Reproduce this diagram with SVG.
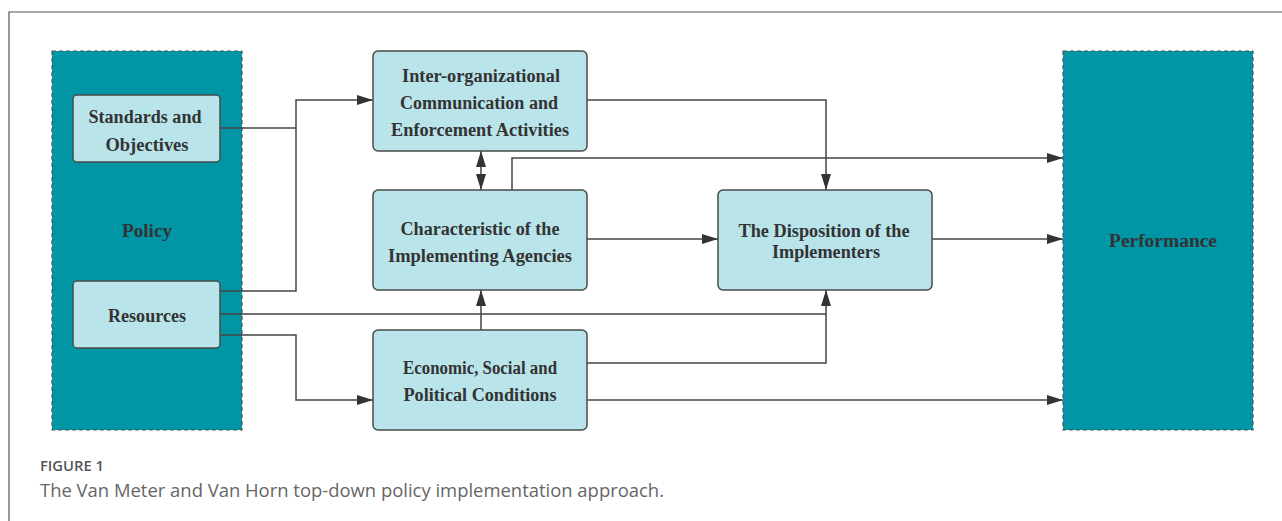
<svg xmlns="http://www.w3.org/2000/svg" width="1282" height="521" viewBox="0 0 1282 521">
<style>
.outer{fill:#0096a6;stroke:#555;stroke-width:1.2;stroke-dasharray:4 3}
.box{fill:#b9e4ea;stroke:#4a4a4a;stroke-width:1.5}
.t{font-family:"Liberation Serif",serif;font-weight:bold;font-size:18px;fill:#333;text-anchor:middle}
.c{fill:none;stroke:#444;stroke-width:1.5}
.cap1{font-family:"Open Sans","Noto Sans",sans-serif;font-size:14px;font-weight:600;fill:#555}
.cap2{font-family:"Open Sans","Noto Sans",sans-serif;font-size:18px;fill:#666}
</style>
<defs>
<marker id="a" viewBox="0 0 16 10" refX="16" refY="5" markerWidth="16" markerHeight="10" markerUnits="userSpaceOnUse" orient="auto-start-reverse">
<path d="M0,0 L16,5 L0,10 Z" fill="#333"/>
</marker>
</defs>
<rect width="1282" height="521" fill="#fff"/>
<path d="M9,521 V12 H1282" fill="none" stroke="#555" stroke-width="1.2"/>
<g id="policy">
<rect class="outer" x="52" y="51" width="190" height="379"/>
<text class="t" x="147" y="237" textLength="50" lengthAdjust="spacingAndGlyphs">Policy</text>
</g>
<g id="performance">
<rect class="outer" x="1063" y="51" width="190" height="379"/>
<text class="t" x="1163" y="247" textLength="108" lengthAdjust="spacingAndGlyphs">Performance</text>
</g>
<g id="connectors">
<path class="c" d="M220,128 H296"/>
<path class="c" d="M220,291 H296 V100 H373" marker-end="url(#a)"/>
<path class="c" d="M220,314 H826 V290" marker-end="url(#a)"/>
<path class="c" d="M220,335 H296 V400 H373" marker-end="url(#a)"/>
<path class="c" d="M587,363 H826 V314"/>
<path class="c" d="M587,400 H1063" marker-end="url(#a)"/>
<path class="c" d="M587,100 H826 V190" marker-end="url(#a)"/>
<path class="c" d="M481,151 V190" marker-start="url(#a)" marker-end="url(#a)"/>
<path class="c" d="M481,330 V290" marker-end="url(#a)"/>
<path class="c" d="M512,190 V158 H1063" marker-end="url(#a)"/>
<path class="c" d="M587,239 H718" marker-end="url(#a)"/>
<path class="c" d="M932,239 H1063" marker-end="url(#a)"/>
</g>
<g id="standards">
<rect class="box" x="73" y="95" width="147" height="67" rx="4"/>
<text class="t" x="145" y="123" textLength="113" lengthAdjust="spacingAndGlyphs">Standards and</text>
<text class="t" x="147" y="151" textLength="83" lengthAdjust="spacingAndGlyphs">Objectives</text>
</g>
<g id="resources">
<rect class="box" x="73" y="281" width="147" height="67" rx="4"/>
<text class="t" x="147" y="322" textLength="78" lengthAdjust="spacingAndGlyphs">Resources</text>
</g>
<g id="interorg">
<rect class="box" x="373" y="51" width="214" height="100" rx="5"/>
<text class="t" x="481" y="82" textLength="158" lengthAdjust="spacingAndGlyphs">Inter-organizational</text>
<text class="t" x="479" y="109" textLength="158" lengthAdjust="spacingAndGlyphs">Communication and</text>
<text class="t" x="480" y="136" textLength="178" lengthAdjust="spacingAndGlyphs">Enforcement Activities</text>
</g>
<g id="characteristic">
<rect class="box" x="373" y="190" width="214" height="100" rx="5"/>
<text class="t" x="480" y="235" textLength="159" lengthAdjust="spacingAndGlyphs">Characteristic of the</text>
<text class="t" x="480" y="262" textLength="184" lengthAdjust="spacingAndGlyphs">Implementing Agencies</text>
</g>
<g id="disposition">
<rect class="box" x="718" y="190" width="214" height="100" rx="5"/>
<text class="t" x="824" y="237" textLength="171" lengthAdjust="spacingAndGlyphs">The Disposition of the</text>
<text class="t" x="826" y="258" textLength="108" lengthAdjust="spacingAndGlyphs">Implementers</text>
</g>
<g id="economic">
<rect class="box" x="373" y="330" width="214" height="100" rx="5"/>
<text class="t" x="480" y="374" textLength="154" lengthAdjust="spacingAndGlyphs">Economic, Social and</text>
<text class="t" x="480" y="401" textLength="153" lengthAdjust="spacingAndGlyphs">Political Conditions</text>
</g>
<text class="cap1" x="40" y="471" textLength="64" lengthAdjust="spacingAndGlyphs">FIGURE 1</text>
<text class="cap2" x="40" y="497" textLength="624" lengthAdjust="spacingAndGlyphs">The Van Meter and Van Horn top-down policy implementation approach.</text>
</svg>
